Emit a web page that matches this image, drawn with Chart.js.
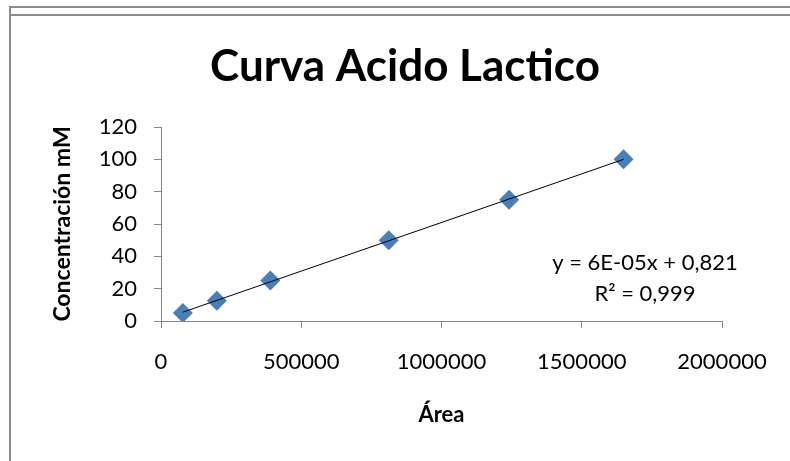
<!DOCTYPE html>
<html>
<head>
<meta charset="utf-8">
<script src="https://cdn.jsdelivr.net/npm/chart.js@4.4.0/dist/chart.umd.min.js"></script>
<style>
  html, body { margin: 0; padding: 0; background: #fff; }
  #wrap { position: relative; width: 790px; height: 461px; overflow: hidden; }
  canvas { position: absolute; left: 0; top: 0; }
  .ln { position: absolute; background: #8c8c8c; }
</style>
</head>
<body>
<div id="wrap">
  <canvas id="c" width="790" height="461"></canvas>
  <div class="ln" style="left:9px;top:6px;width:2px;height:455px"></div>
  <div class="ln" style="left:9px;top:6px;width:781px;height:2px"></div>
  <div class="ln" style="left:11px;top:14px;width:779px;height:2px"></div>
</div>
<script>
// data
const areas = [78000, 199000, 390000, 812000, 1241000, 1649000];
const concentrations = [5, 12.5, 25, 50, 75, 100];
const xTicks = [0, 500000, 1000000, 1500000, 2000000];
const yTicks = [0, 20, 40, 60, 80, 100, 120];
const titleText = 'Curva Acido Lactico';
const xTitle = 'Área';
const yTitle = 'Concentración mM';
const eqLines = ['y = 6E-05x + 0,821', 'R² = 0,999'];

// least squares trendline over the points
const n = areas.length;
const mx = areas.reduce((a, b) => a + b, 0) / n;
const my = concentrations.reduce((a, b) => a + b, 0) / n;
let sxy = 0, sxx = 0;
areas.forEach((x, i) => { sxy += (x - mx) * (concentrations[i] - my); sxx += (x - mx) * (x - mx); });
const slope = sxy / sxx;
const icpt = my - slope * mx;
const xMin = Math.min(...areas), xMax = Math.max(...areas);
const trend = [{ x: xMin, y: slope * xMin + icpt }, { x: xMax, y: slope * xMax + icpt }];

const points = areas.map((x, i) => ({ x: x, y: concentrations[i] }));

const FONT = 'Lato';
const AXIS = '#868686';

// title and equation text
const notes = {
  id: 'notes',
  afterDraw(chart) {
    const ctx = chart.ctx;
    ctx.save();
    ctx.fillStyle = '#000';
    ctx.textAlign = 'center';
    ctx.textBaseline = 'middle';
    ctx.font = 'bold 44px ' + FONT;
    ctx.fillText(titleText, 405, 67);
    ctx.font = '22px ' + FONT;
    ctx.fillText(eqLines[0], 645, 263);
    ctx.fillText(eqLines[1], 645, 294);
    ctx.restore();
  }
};

new Chart(document.getElementById('c'), {
  type: 'scatter',
  data: {
    datasets: [
      {
        type: 'line',
        data: trend,
        borderColor: '#000',
        borderWidth: 1,
        pointRadius: 0,
        fill: false,
        order: 0
      },
      {
        data: points,
        pointStyle: 'rectRot',
        pointRadius: 10,
        backgroundColor: '#4A7EBB',
        borderColor: '#4A7EBB',
        borderWidth: 0,
        order: 1
      }
    ]
  },
  options: {
    responsive: false,
    animation: false,
    devicePixelRatio: 1,
    layout: { padding: { top: 127, left: 40, right: 68, bottom: 0 } },
    plugins: {
      legend: { display: false },
      tooltip: { enabled: false }
    },
    scales: {
      x: {
        type: 'linear',
        min: 0,
        max: 2000000,
        afterBuildTicks: (s) => { s.ticks = xTicks.map(v => ({ value: v })); },
        afterFit: (s) => { s.height = 140; },
        ticks: {
          color: '#000',
          font: { family: FONT, size: 22 },
          padding: 21,
          maxRotation: 0,
          callback: (v) => String(v)
        },
        grid: { drawOnChartArea: false, drawTicks: true, tickLength: 7, color: AXIS },
        border: { display: true, color: AXIS },
        title: {
          display: true,
          text: xTitle,
          color: '#000',
          font: { family: FONT, size: 22, weight: 'bold' },
          padding: { top: 33, bottom: 33 }
        }
      },
      y: {
        min: 0,
        max: 120,
        afterBuildTicks: (s) => { s.ticks = yTicks.map(v => ({ value: v })); },
        afterFit: (s) => { s.width = 121; },
        ticks: {
          color: '#000',
          font: { family: FONT, size: 22 },
          padding: 17,
          callback: (v) => String(v)
        },
        grid: { drawOnChartArea: false, drawTicks: true, tickLength: 7, color: AXIS },
        border: { display: true, color: AXIS },
        title: {
          display: true,
          text: yTitle,
          color: '#000',
          font: { family: FONT, size: 23, weight: 'bold' },
          padding: { top: 9, bottom: 9 }
        }
      }
    }
  },
  plugins: [notes]
});
</script>
</body>
</html>
